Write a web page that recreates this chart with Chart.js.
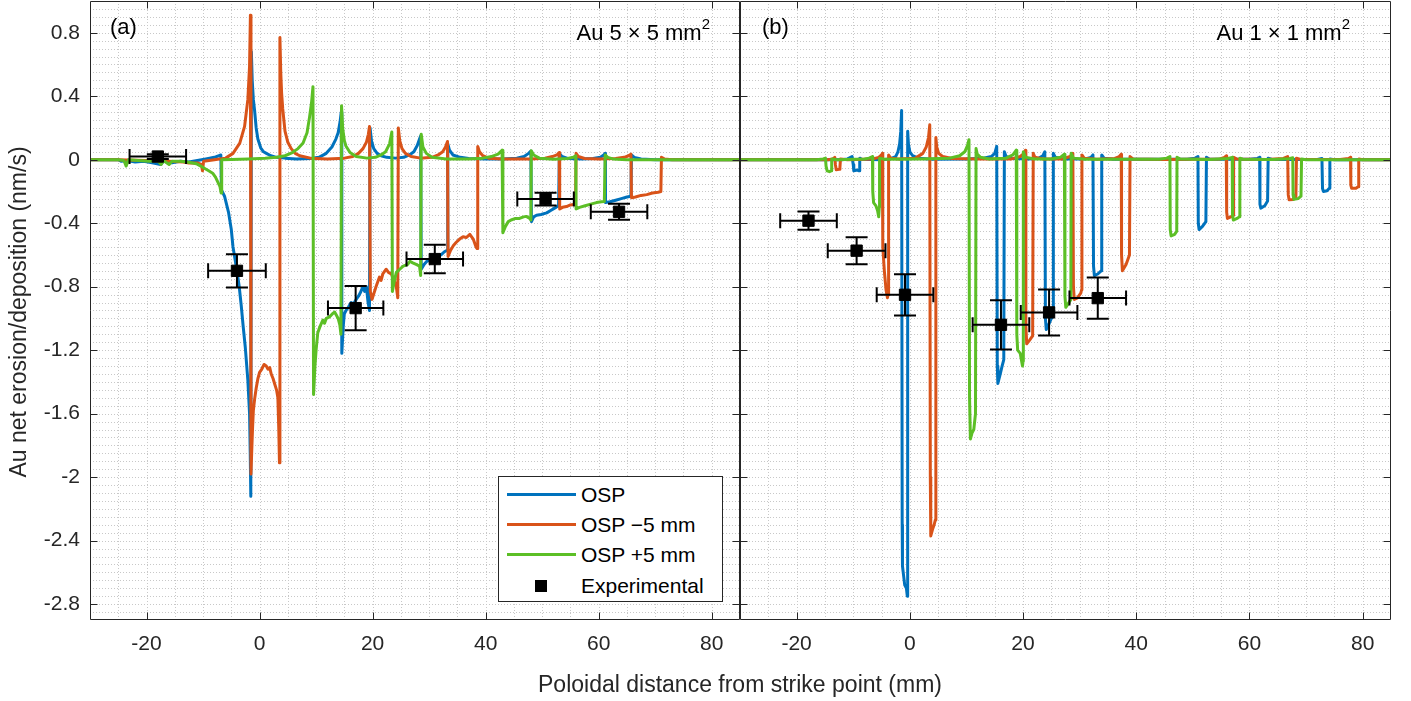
<!DOCTYPE html>
<html>
<head>
<meta charset="utf-8">
<script src="https://cdn.jsdelivr.net/npm/chart.js@4/dist/chart.umd.min.js"></script>
<style>
  body{margin:0;background:#fff;width:1411px;height:701px;position:relative;overflow:hidden;
       font-family:"Liberation Sans",Arial,Helvetica,sans-serif;color:#262626}
  canvas{position:absolute;top:0}
  .txt{position:absolute;white-space:nowrap;line-height:24px;font-size:22px;color:#000}
  .txt .op{margin:0 6px}
  #ylab{position:absolute;left:-182px;top:297px;width:400px;height:30px;line-height:30px;text-align:center;
        font-size:23px;transform:rotate(-90deg);color:#262626}
  #xlab{position:absolute;left:440px;top:669px;width:600px;line-height:30px;text-align:center;font-size:23px;color:#262626}
  #legend{position:absolute;left:498px;top:476px;width:225px;height:126px;box-sizing:border-box;
          border:1px solid #262626;background:#fff}
  #legend .row{position:absolute;left:0;height:24px;width:100%}
  #legend .ln{position:absolute;left:8px;top:10px;width:69px;height:3px}
  #legend .mk{position:absolute;left:36px;top:6px;width:12px;height:12px;background:#000}
  #legend .tx{position:absolute;left:82px;top:0;line-height:24px;font-size:21px;color:#000}
  sup{font-size:15px;position:relative;top:-3px}
</style>
</head>
<body>
<canvas id="cA" width="746" height="701" style="left:0"></canvas>
<canvas id="cB" width="677" height="701" style="left:734px"></canvas>

<div id="ylab">Au net erosion/deposition (nm/s)</div>
<div id="xlab">Poloidal distance from strike point (mm)</div>
<div class="txt" style="left:110px;top:15px">(a)</div>
<div class="txt" style="right:701px;top:15px">Au 5<span class="op">&times;</span>5 mm<sup>2</sup></div>
<div class="txt" style="left:762px;top:15px">(b)</div>
<div class="txt" style="right:61px;top:15px">Au 1<span class="op">&times;</span>1 mm<sup>2</sup></div>
<div id="legend"></div>

<script>
// axes
const xMin = -30, xMax = 85, yMin = -2.9, yMax = 1.0;
const xTickVals = [-20, 0, 20, 40, 60, 80];
const yTickVals = [-2.8, -2.4, -2, -1.6, -1.2, -0.8, -0.4, 0, 0.4, 0.8];
const yTickLabels = ['-2.8', '-2.4', '-2', '-1.6', '-1.2', '-0.8', '-0.4', '0', '0.4', '0.8'];

const seriesNames = ['OSP', 'OSP \u22125 mm', 'OSP +5 mm', 'Experimental'];
const seriesColors = ['#0072bd', '#d95319', '#5cbf26'];

// (a) Au 5x5 mm2
const aOSP = [[-30,0],[-25,0],[-24.5,-0.01],[-23.5,-0.005],[-22,-0.015],[-20.5,-0.01],[-19,-0.02],[-17.5,-0.03],[-17,-0.01],[-15.5,-0.02],[-14,-0.01],[-12.5,-0.015],[-11,-0.005],[-9.5,0.005],[-8,0.015],[-7.2,0.025],[-6.85,0.03],
  [-6.75,-0.19],[-6.2,-0.23],[-5.5,-0.33],[-5.0,-0.44],[-4.7,-0.55],[-4.0,-0.70],[-3.6,-0.8],[-3.24,-0.92],[-2.9,-1.05],[-2.53,-1.18],[-2.07,-1.39],[-1.77,-1.6],[-1.65,-1.85],[-1.55,-2.12],
  [-1.45,0.68],[-1.3,0.5],[-1.1,0.38],[-0.88,0.31],[-0.6,0.2],[-0.3,0.13],[0.2,0.075],[0.7,0.05],[1.2,0.04],[2,0.025],[3,0.015],[4.5,0.01],[6.5,0.005],[9,0.008],[10.5,0.015],[11.8,0.04],[12.8,0.08],[13.5,0.13],[13.9,0.17],[14.25,0.24],[14.45,0.30],
  [14.55,-1.22],[14.8,-1.05],[15.0,-0.97],[15.3,-0.95],[15.7,-0.93],[16.2,-0.9],[16.6,-0.91],[17.1,-0.88],[17.5,-0.86],[17.8,-0.84],[18.3,-0.80],[18.6,-0.83],[18.9,-0.8],[19.2,-0.9],[19.45,-0.95],
  [19.55,0.2],[19.8,0.12],[20.2,0.07],[20.8,0.04],[21.5,0.025],[22.5,0.015],[24,0.01],[25.5,0.015],[26.5,0.03],[27.3,0.05],[27.9,0.09],[28.3,0.13],[28.5,0.15],
  [28.6,-0.69],[29.1,-0.66],[29.6,-0.64],[30.2,-0.63],[30.9,-0.62],[31.5,-0.6],[32.1,-0.6],[32.7,-0.58],[33.2,-0.57],
  [33.3,0.1],[33.6,0.06],[34.2,0.03],[35.5,0.015],[37,0.008],[40,0.005],[43,0.005],[45.5,0.01],[46.8,0.02],[47.6,0.04],[48.0,0.055],
  [48.1,-0.39],[48.5,-0.36],[49.0,-0.35],[49.8,-0.345],[50.8,-0.335],[51.5,-0.32],[52.2,-0.305],[52.9,-0.29],
  [53.05,0.04],[53.5,0.02],[54.5,0.008],[57,0.005],[59,0.008],[60.3,0.015],[60.9,0.03],[61.15,0.04],
  [61.2,-0.27],[62,-0.265],[63,-0.255],[64,-0.245],[65,-0.235],[65.7,-0.23],
  [65.8,0.03],[66.3,0.015],[67.5,0.005],[70,0],[85,0]];

const aMinus5 = [[-30,0],[-25,0],[-20,-0.005],[-16,-0.01],[-13.5,-0.015],[-12.5,-0.02],[-11,-0.02],[-10.3,-0.03],[-10.1,-0.07],[-9.9,-0.01],[-8,0.0],[-6,0.01],[-4.7,0.04],[-3.5,0.105],[-2.65,0.21],[-2.07,0.38],[-1.77,0.59],[-1.62,0.91],
  [-1.52,-1.98],[-1.4,-1.85],[-1.25,-1.7],[-1.1,-1.58],[-0.88,-1.51],[-0.6,-1.44],[-0.3,-1.38],[0,-1.34],[0.4,-1.32],[0.8,-1.29],[1.18,-1.30],[1.5,-1.32],[1.8,-1.31],[2.06,-1.35],[2.4,-1.38],[2.65,-1.41],[3.0,-1.45],[3.24,-1.5],[3.4,-1.7],[3.52,-1.91],
  [3.6,0.77],[3.75,0.55],[3.9,0.42],[4.1,0.32],[4.5,0.18],[5.0,0.11],[5.6,0.07],[6.3,0.04],[7.1,0.025],[9,0.01],[12,0.005],[15,0.01],[16.5,0.02],[17.5,0.04],[18.3,0.07],[18.9,0.11],[19.25,0.16],[19.45,0.21],
  [19.6,-0.83],[19.9,-0.88],[20.05,-0.88],[20.6,-0.8],[21.2,-0.74],[21.5,-0.76],[21.8,-0.72],[22.4,-0.69],[22.8,-0.71],[23.3,-0.72],[23.8,-0.76],[24.2,-0.8],[24.45,-0.87],
  [24.55,0.2],[24.8,0.12],[25.2,0.07],[25.8,0.04],[26.8,0.02],[28.5,0.01],[30.5,0.015],[31.6,0.03],[32.4,0.05],[32.9,0.08],[33.25,0.115],
  [33.35,-0.61],[33.8,-0.57],[34.3,-0.54],[34.8,-0.52],[35.4,-0.5],[36.0,-0.485],[36.6,-0.49],[37.2,-0.47],[37.8,-0.5],[38.3,-0.55],[38.5,-0.56],
  [38.6,0.084],[38.9,0.05],[39.5,0.025],[40.5,0.01],[43,0.005],[48,0.005],[50.5,0.01],[51.8,0.02],[52.6,0.03],[53.0,0.045],
  [53.1,-0.31],[53.6,-0.3],[54.3,-0.295],[55,-0.285],[55.9,-0.28],
  [56.0,0.04],[56.4,0.02],[57.5,0.008],[60,0.005],[63,0.008],[64.5,0.015],[65.3,0.025],[65.7,0.035],
  [65.8,-0.24],[66.5,-0.235],[67.5,-0.225],[68.5,-0.22],[69.5,-0.21],[70.5,-0.205],[71.0,-0.2],
  [71.1,0.015],[71.6,0.005],[73,0],[85,0]];

const aPlus5 = [[-30,0],[-25,0],[-24,-0.005],[-23.6,-0.04],[-23.2,0],[-21.5,-0.005],[-19.5,-0.01],[-18,-0.005],[-17.4,-0.03],[-17,-0.005],[-16,-0.03],[-15.5,-0.01],[-14,-0.01],[-12.8,-0.015],[-11.2,-0.025],[-10.4,-0.04],[-9.7,-0.055],[-9,-0.07],[-8.3,-0.085],[-7.8,-0.11],[-7.4,-0.14],[-7.0,-0.17],[-6.8,-0.21],
  [-6.7,0],[-5,0.002],[-2,0.005],[1,0.01],[3,0.015],[4.5,0.025],[5.8,0.045],[6.8,0.07],[7.7,0.105],[8.4,0.17],[8.85,0.27],[9.2,0.36],[9.45,0.46],
  [9.55,-1.48],[9.8,-1.3],[10.0,-1.2],[10.3,-1.09],[10.7,-1.05],[11.2,-1.01],[11.5,-1.03],[11.8,-1.0],[12.4,-0.99],[12.9,-0.97],[13.3,-0.96],[13.6,-0.98],[13.9,-1.0],[14.2,-1.04],[14.4,-1.1],
  [14.5,0.34],[14.7,0.2],[15.0,0.12],[15.3,0.085],[16.0,0.045],[17.1,0.02],[19,0.01],[20.5,0.015],[21.5,0.03],[22.3,0.05],[23.0,0.1],[23.4,0.175],
  [23.5,-0.83],[23.8,-0.77],[24.2,-0.71],[24.8,-0.69],[25.4,-0.67],[26.2,-0.66],[26.6,-0.64],[27.1,-0.65],[27.7,-0.66],[28.3,-0.67],[28.5,-0.73],
  [28.6,0.16],[28.9,0.08],[29.5,0.04],[30.5,0.015],[33,0.005],[37,0.005],[39.5,0.01],[41,0.02],[42.2,0.035],[42.9,0.06],
  [43.05,-0.46],[43.5,-0.42],[44,-0.39],[44.5,-0.38],[45.3,-0.37],[46,-0.37],[46.7,-0.36],[47.2,-0.357],[47.8,-0.37],[48.0,-0.38],
  [48.07,0.056],[48.5,0.03],[49.5,0.01],[52,0.003],[54.5,0.008],[55.5,0.015],[55.95,0.025],
  [56.0,-0.31],[56.6,-0.3],[57.6,-0.29],[58.6,-0.28],[59.6,-0.27],[60.5,-0.265],[61.0,-0.263],
  [61.15,0.03],[61.6,0.015],[62.5,0.005],[65,0],[85,0]];

const aExpX = [-18, -4, 17, 31, 50.6, 63.6];
const aExpY = [0.02, -0.70, -0.935, -0.626, -0.248, -0.328];
const aExpXErr = [5, 5.1, 4.9, 5, 5, 5];
const aExpYErr = [0.015, 0.105, 0.14, 0.09, 0.04, 0.05];

// (b) Au 1x1 mm2
const bOSP = [[-30,0],[-12,0],[-11,0.005],[-10.2,0.02],[-10.0,-0.03],[-9.9,-0.07],[-9.3,-0.065],[-8.95,-0.07],[-8.85,0.01],[-8.5,0.003],[-5,0],[-3.5,0.005],[-2.5,0.02],[-2.1,0.05],[-1.8,0.1],[-1.6,0.18],[-1.45,0.31],
  [-1.35,-2.3],[-1.3,-2.56],[-1.1,-2.62],[-0.9,-2.68],[-0.6,-2.7],[-0.45,-2.75],
  [-0.38,0.18],[-0.25,0.1],[0,0.05],[0.5,0.025],[1.5,0.01],[4,0.003],[10,0.005],[13,0.01],[14.4,0.02],[15,0.04],[15.35,0.084],
  [15.45,-1.3],[15.55,-1.41],[15.9,-1.36],[16.3,-1.3],[16.6,-1.26],
  [16.7,0.05],[17,0.02],[18,0.008],[21,0.005],[22.8,0.01],[23.5,0.025],[23.85,0.05],
  [23.95,-1.0],[24.1,-1.07],[24.5,-1.04],[25.0,-1.0],[25.3,-0.98],
  [25.35,0.04],[25.7,0.015],[27,0.005],[31,0.005],[32,0.015],[32.35,0.03],
  [32.45,-0.67],[32.6,-0.73],[33.2,-0.72],[33.8,-0.7],
  [33.9,0.03],[34.3,0.01],[36,0.003],[49,0.003],[50.4,0.01],[50.9,0.02],
  [50.96,-0.4],[51.1,-0.44],[51.7,-0.42],[52.3,-0.39],
  [52.4,0.015],[53,0.003],[60,0.003],[61.4,0.008],[61.8,0.015],
  [61.85,-0.28],[62.0,-0.305],[62.7,-0.29],[63.2,-0.26],
  [63.3,0.01],[64,0.002],[72,0.002],[72.8,0.008],
  [72.9,-0.18],[73.05,-0.2],[73.7,-0.195],[74.1,-0.18],
  [74.2,0.005],[75,0],[85,0]];

const bMinus5 = [[-30,0],[-14.5,0],[-13.6,0.005],[-13.25,0.015],[-13.15,-0.03],[-13.0,-0.063],[-12.5,-0.06],[-12.35,-0.05],[-12.25,0.005],[-11,0],[-6.5,0.005],[-5.5,0.015],[-5.0,0.03],[-4.85,0.04],
  [-4.8,-0.3],[-4.75,-0.55],[-4.5,-0.7],[-4.2,-0.82],[-3.95,-0.87],[-3.85,-0.85],
  [-3.75,0.03],[-3.4,0.01],[-2,0.005],[1,0.01],[2.3,0.04],[2.9,0.08],[3.3,0.14],[3.52,0.22],
  [3.62,-2.0],[3.7,-2.37],[4.0,-2.33],[4.3,-2.3],[4.5,-2.27],
  [4.6,0.14],[4.75,0.08],[5.1,0.04],[5.8,0.02],[7.5,0.008],[12,0.005],[18,0.005],[19.5,0.02],[20.2,0.04],[20.42,0.06],
  [20.5,-1.05],[20.65,-1.16],[21.1,-1.14],[21.5,-1.12],[21.7,-1.11],
  [21.8,0.04],[22.1,0.015],[23.5,0.005],[27,0.005],[28.3,0.02],[28.8,0.04],
  [28.9,-0.8],[29.05,-0.88],[29.6,-0.87],[30.2,-0.84],[30.35,-0.82],
  [30.4,0.03],[30.8,0.01],[33,0.003],[36.2,0.008],[37.0,0.02],[37.35,0.035],
  [37.4,-0.6],[37.55,-0.7],[38.2,-0.66],[38.8,-0.6],
  [38.9,0.02],[39.4,0.005],[45,0.002],[54.8,0.005],[55.6,0.015],[55.9,0.025],
  [55.97,-0.33],[56.1,-0.37],[56.7,-0.36],[57.1,-0.35],
  [57.2,0.015],[57.7,0.005],[63,0.002],[66,0.008],[66.75,0.02],
  [66.85,-0.22],[67.0,-0.252],[67.7,-0.25],[68.2,-0.24],
  [68.3,0.01],[69,0.002],[76,0.002],[77.5,0.008],[77.85,0.015],
  [77.9,-0.16],[78.05,-0.18],[78.8,-0.18],[79.2,-0.17],
  [79.3,0.005],[80,0],[85,0]];

const bPlus5 = [[-30,0],[-16.5,0],[-15.3,0.005],[-14.9,0.01],[-14.8,-0.04],[-14.6,-0.07],[-14.2,-0.075],[-13.9,-0.07],[-13.8,0.005],[-13,0],[-8,0.005],[-7.2,0.01],[-6.6,0.02],
  [-6.55,-0.2],[-6.4,-0.27],[-6.0,-0.29],[-5.7,-0.32],[-5.5,-0.36],[-5.4,-0.3],
  [-5.35,0.01],[-4.5,0.003],[2,0.005],[7,0.01],[8.8,0.025],[9.7,0.05],[10.2,0.09],[10.45,0.126],
  [10.55,-1.5],[10.7,-1.76],[11.0,-1.72],[11.3,-1.7],[11.6,-1.6],
  [11.7,0.07],[11.9,0.035],[12.5,0.015],[14,0.005],[17,0.01],[18.2,0.03],[18.8,0.06],
  [18.9,-1.1],[19.05,-1.2],[19.5,-1.22],[19.9,-1.3],[20.0,-1.27],
  [20.05,0.05],[20.4,0.015],[22,0.005],[25,0.005],[26.6,0.015],[27.3,0.035],
  [27.4,-0.86],[27.55,-0.93],[28.1,-0.9],[28.45,-0.88],
  [28.5,0.04],[28.9,0.01],[31,0.003],[44,0.003],[45.4,0.01],[45.95,0.02],
  [46.0,-0.44],[46.15,-0.48],[46.8,-0.47],[47.15,-0.45],
  [47.2,0.015],[47.7,0.005],[53,0.002],[56.2,0.008],[56.95,0.015],
  [57.0,-0.35],[57.15,-0.38],[57.8,-0.37],[58.2,-0.36],
  [58.3,0.01],[58.8,0.003],[64,0.002],[67,0.006],[67.65,0.012],
  [67.7,-0.22],[67.85,-0.25],[68.6,-0.245],[69.1,-0.23],
  [69.2,0.005],[70,0],[85,0]];

const bExpX = [-17.9, -9.4, -0.85, 16.1, 24.6, 33.2];
const bExpY = [-0.384, -0.573, -0.851, -1.04, -0.962, -0.872];
const bExpXErr = [5, 5.1, 5, 5, 5, 5];
const bExpYErr = [0.057, 0.085, 0.13, 0.155, 0.145, 0.13];

Chart.defaults.font.family = '"Liberation Sans", Arial, Helvetica, sans-serif';
Chart.defaults.color = '#262626';

// dotted minor grid, box and inward ticks
const axesBox = {
  id: 'axesBox',
  beforeDatasetsDraw(chart) {
    const {ctx, chartArea: a, scales: {x, y}} = chart;
    ctx.save();
    ctx.strokeStyle = '#c8c8c8';
    ctx.lineWidth = 1;
    ctx.setLineDash([1, 2]);
    ctx.beginPath();
    for (let i = 1; i < 23; i++) {
      const px = Math.round(x.getPixelForValue(xMin + 5 * i)) + 0.5;
      ctx.moveTo(px, a.top); ctx.lineTo(px, a.bottom);
    }
    for (let i = 1; i < 78; i++) {
      const py = Math.round(y.getPixelForValue(yMin + 0.05 * i)) + 0.5;
      ctx.moveTo(a.left, py); ctx.lineTo(a.right, py);
    }
    ctx.stroke();
    ctx.restore();
  },
  afterDraw(chart) {
    const {ctx, chartArea: a, scales: {x, y}} = chart;
    const L = Math.round(a.left) + 0.5, R = Math.round(a.right) - 0.5;
    const T = Math.round(a.top) + 0.5, B = Math.round(a.bottom) - 0.5;
    ctx.save();
    ctx.strokeStyle = '#262626';
    ctx.lineWidth = 1;
    ctx.beginPath();
    ctx.rect(L, T, R - L, B - T);
    xTickVals.forEach(v => {
      const px = Math.round(x.getPixelForValue(v)) + 0.5;
      ctx.moveTo(px, B); ctx.lineTo(px, B - 7);
      ctx.moveTo(px, T); ctx.lineTo(px, T + 7);
    });
    yTickVals.forEach(v => {
      const py = Math.round(y.getPixelForValue(v)) + 0.5;
      ctx.moveTo(L, py); ctx.lineTo(L + 7, py);
      ctx.moveTo(R, py); ctx.lineTo(R - 7, py);
    });
    ctx.stroke();
    ctx.restore();
  }
};

// error bars of the experimental points
const errBars = {
  id: 'errBars',
  afterDatasetsDraw(chart, args, o) {
    const {ctx, scales: {x, y}} = chart;
    ctx.save();
    ctx.strokeStyle = '#000';
    ctx.lineWidth = 2;
    ctx.beginPath();
    o.x.forEach((xv, i) => {
      const px = x.getPixelForValue(xv), py = y.getPixelForValue(o.y[i]);
      const x0 = x.getPixelForValue(xv - o.ex[i]), x1 = x.getPixelForValue(xv + o.ex[i]);
      const y0 = y.getPixelForValue(o.y[i] + o.ey[i]), y1 = y.getPixelForValue(o.y[i] - o.ey[i]);
      ctx.moveTo(x0, py); ctx.lineTo(x1, py);
      ctx.moveTo(x0, py - 7.5); ctx.lineTo(x0, py + 7.5);
      ctx.moveTo(x1, py - 7.5); ctx.lineTo(x1, py + 7.5);
      ctx.moveTo(px, y0); ctx.lineTo(px, y1);
      ctx.moveTo(px - 11, y0); ctx.lineTo(px + 11, y0);
      ctx.moveTo(px - 11, y1); ctx.lineTo(px + 11, y1);
    });
    ctx.stroke();
    ctx.restore();
  }
};

function noPad(s) {
  s.paddingTop = 0; s.paddingBottom = 0; s.paddingLeft = 0; s.paddingRight = 0;
}

function lineSet(pts, i) {
  return {
    label: seriesNames[i],
    data: pts.map(p => ({x: p[0], y: p[1]})),
    borderColor: seriesColors[i],
    borderWidth: 3,
    borderJoinStyle: 'round',
    pointRadius: 0,
    tension: 0,
    fill: false,
    order: 3 - i
  };
}

function makeChart(id, lines, ex, ey, exErr, eyErr, pad, showY) {
  return new Chart(document.getElementById(id), {
    type: 'line',
    data: {
      datasets: [
        lineSet(lines[0], 0), lineSet(lines[1], 1), lineSet(lines[2], 2),
        {
          label: seriesNames[3],
          data: ex.map((v, i) => ({x: v, y: ey[i]})),
          showLine: false,
          pointStyle: 'rect',
          pointRadius: 8,
          pointBackgroundColor: '#000',
          pointBorderColor: '#000',
          pointBorderWidth: 1,
          order: 0
        }
      ]
    },
    options: {
      responsive: false,
      animation: false,
      devicePixelRatio: 1,
      layout: {padding: pad, autoPadding: false},
      plugins: {
        legend: {display: false},
        tooltip: {enabled: false},
        errBars: {x: ex, y: ey, ex: exErr, ey: eyErr}
      },
      scales: {
        x: {
          type: 'linear', min: xMin, max: xMax,
          grid: {display: false, drawTicks: false},
          border: {display: false},
          afterBuildTicks: s => { s.ticks = xTickVals.map(v => ({value: v})); },
          afterFit: s => { s.height = 81; noPad(s); },
          ticks: {autoSkip: false, maxRotation: 0, padding: 12, font: {size: 21}, color: '#262626',
                  callback: v => String(v)}
        },
        y: {
          type: 'linear', min: yMin, max: yMax,
          grid: {display: false, drawTicks: false},
          border: {display: false},
          afterBuildTicks: s => { s.ticks = yTickVals.map(v => ({value: v})); },
          afterFit: s => { s.width = showY ? 90 : 0; noPad(s); },
          ticks: {display: showY, autoSkip: false, padding: 10, font: {size: 21}, color: '#262626',
                  callback: (v, i) => yTickLabels[i]}
        }
      }
    },
    plugins: [axesBox, errBars]
  });
}

makeChart('cA', [aOSP, aMinus5, aPlus5], aExpX, aExpY, aExpXErr, aExpYErr,
          {left: 0, right: 6, top: 1, bottom: 0}, true);
makeChart('cB', [bOSP, bMinus5, bPlus5], bExpX, bExpY, bExpXErr, bExpYErr,
          {left: 6, right: 20, top: 1, bottom: 0}, false);

// legend
const legend = document.getElementById('legend');
seriesNames.forEach((name, i) => {
  const row = document.createElement('div');
  row.className = 'row';
  row.style.top = (6 + 30 * i + (i === 3 ? 1 : 0)) + 'px';
  const mark = document.createElement('span');
  if (i < 3) { mark.className = 'ln'; mark.style.background = seriesColors[i]; }
  else { mark.className = 'mk'; }
  const tx = document.createElement('span');
  tx.className = 'tx';
  tx.textContent = name;
  row.appendChild(mark);
  row.appendChild(tx);
  legend.appendChild(row);
});
</script>
</body>
</html>
